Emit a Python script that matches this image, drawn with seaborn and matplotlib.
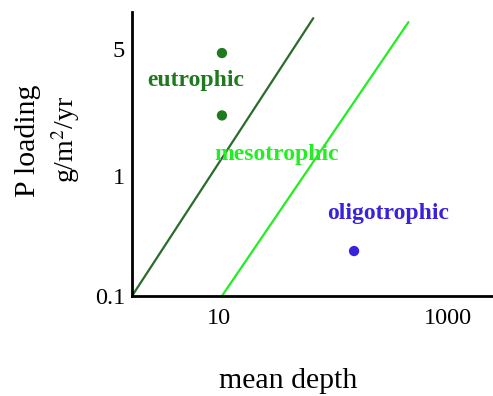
import pandas as pd
import matplotlib
matplotlib.use("Agg")
import matplotlib.pyplot as plt
import seaborn as sns

# ------ DATA ------
# boundary lines (mean depth, P loading) - start and end points
eu_line_depth = [1.73, 66.8]
eu_line_load = [0.1, 20.7]
meso_line_depth = [10.6, 455]
meso_line_load = [0.1, 19.2]

# example lakes
eu_depth = [10.6, 10.6]
eu_load = [10.6, 3.2]
oligo_depth = [152]
oligo_load = [0.237]

# labels
zone_names = ["eutrophic", "mesotrophic", "oligotrophic"]
zone_depth = [6.2, 31.6, 302]
zone_load = [6.3, 1.5, 0.49]

xtick_vals = [10, 1000]
xtick_labels = ["10", "1000"]
ytick_vals = [0.1, 1, 11.5]
ytick_labels = ["0.1", "1", "5"]

dark_green = "#1f7a1f"
line_dark = "#2b6b2b"
light_green = "#22ee22"
blue = "#3a22dd"

sns.set_style("white")
plt.rcParams['font.family'] = ['Liberation Serif', 'DejaVu Serif']
plt.rcParams['mathtext.fontset'] = 'stix'
plt.rcParams['text.color'] = 'black'
plt.rcParams['xtick.color'] = 'black'
plt.rcParams['ytick.color'] = 'black'

fig = plt.figure(figsize=(4.93, 3.96), dpi=100)
ax = fig.add_axes([132/493, 1 - 296/396, 1 - 132/493, (296 - 12)/396])

eu_df = pd.DataFrame({"depth": eu_line_depth, "load": eu_line_load})
meso_df = pd.DataFrame({"depth": meso_line_depth, "load": meso_line_load})
sns.lineplot(data=eu_df, x="depth", y="load", color=line_dark, lw=1.6, ax=ax)
sns.lineplot(data=meso_df, x="depth", y="load", color=light_green, lw=1.6, ax=ax)

sns.scatterplot(x=eu_depth, y=eu_load, color=dark_green, s=55, edgecolor="none", ax=ax)
sns.scatterplot(x=oligo_depth, y=oligo_load, color=blue, s=55, edgecolor="none", ax=ax)

zone_colors = [dark_green, light_green, blue]
for name, xd, yd, c in zip(zone_names, zone_depth, zone_load, zone_colors):
    ax.text(xd, yd, name, color=c, fontsize=17, fontweight="bold",
            ha="center", va="center")

ax.set_xscale("log")
ax.set_yscale("log")
ax.set_xlim(1.73, 2500)
ax.set_ylim(0.1, 23.3)
ax.set_xticks(xtick_vals)
ax.set_xticklabels(xtick_labels)
ax.set_yticks(ytick_vals)
ax.set_yticklabels(ytick_labels)
ax.minorticks_off()
ax.tick_params(length=0, labelsize=17.5)
ax.tick_params(axis="x", pad=9)
ax.tick_params(axis="y", pad=5)
ax.set_xlabel("")
ax.set_ylabel("")

sns.despine(ax=ax)
for s in ["left", "bottom"]:
    ax.spines[s].set_linewidth(2)
    ax.spines[s].set_color("black")

fig.text(288/493, 1 - 381/396, "mean depth", fontsize=21.5, ha="center", va="center")
fig.text(28/493, 1 - 141/396, "P loading", fontsize=21.5, rotation=90, ha="center", va="center")
fig.text(66/493, 1 - 140/396, "g/m$^2$/yr", fontsize=20, rotation=90, ha="center", va="center")

plt.savefig("out.png", dpi=100)
